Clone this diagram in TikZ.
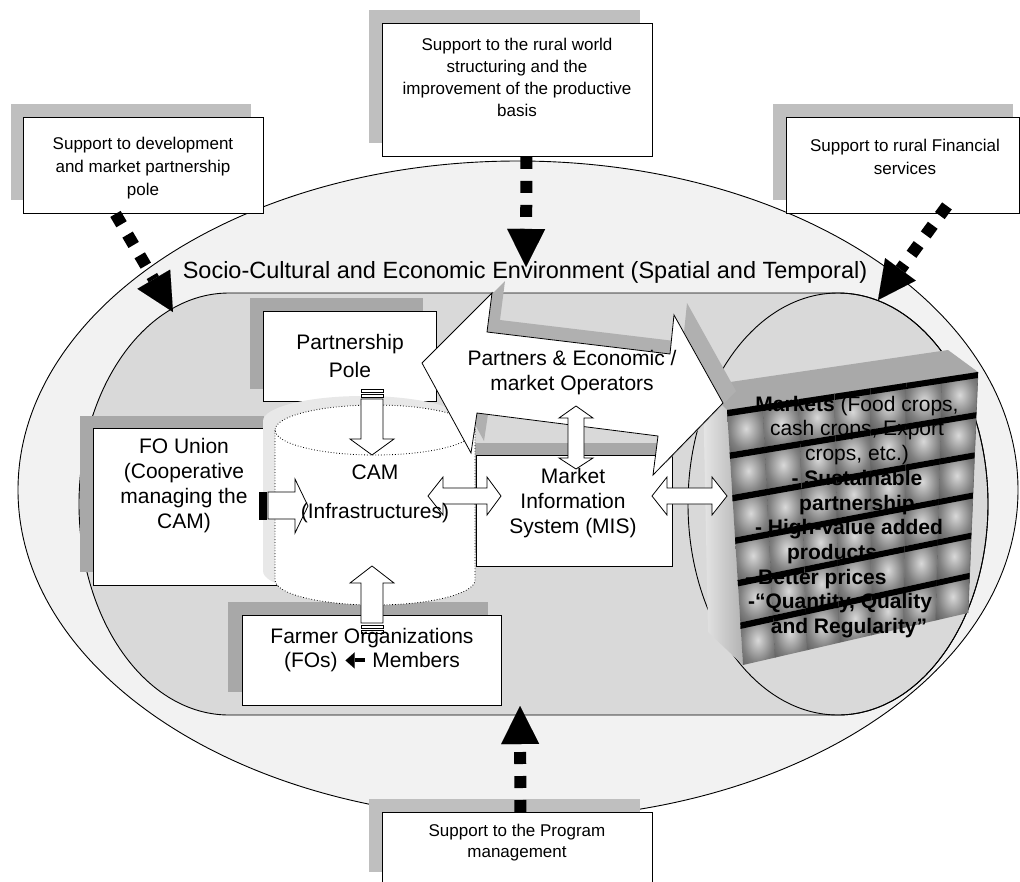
\documentclass[tikz,border=0pt]{standalone}
\usepackage{fontspec}
\setmainfont{Liberation Sans}
\usetikzlibrary{arrows.meta,calc}
\definecolor{outerbg}{HTML}{F2F2F2}
\definecolor{innerbg}{HTML}{D9D9D9}
\definecolor{shA}{HTML}{BFBFBF}
\definecolor{shB}{HTML}{A8A8A8}
\definecolor{cylsh}{HTML}{E8E8E8}
\definecolor{arrsh}{HTML}{B0B0B0}
\definecolor{cubetop}{HTML}{A9A9A9}
\pgfdeclareradialshading{tileshade}{\pgfpoint{0bp}{0bp}}{color(0bp)=(black!15); color(22bp)=(black!50); color(40bp)=(black!68); color(72bp)=(black!72)}
\tikzset{
 wbox/.style={draw=black, fill=white, line width=0.9pt, inner sep=0pt, anchor=north west},
 smalltxt/.style={font=\fontsize{17}{22}\selectfont, align=center, inner sep=0pt},
 bigtxt/.style={font=\fontsize{21}{25}\selectfont, align=center, inner sep=0pt},
 blockarrow/.style={draw=black, fill=white, line width=0.8pt, line join=miter},
 dotarrow/.style={line width=12pt, dash pattern=on 12pt off 12pt, -{Triangle[length=38pt,width=38pt,line width=0.01pt]}},
}
\newcommand{\boldleftarrow}{\tikz[baseline=-7pt]{\draw[line width=4pt,-{Triangle[length=9pt,width=16pt,line width=0.01pt]}] (19pt,0pt) -- (0pt,0pt);}}
\begin{document}
\begin{tikzpicture}[x=1pt,y=-1pt]
\useasboundingbox (0,0) rectangle (1020,881);
\clip (0,0) rectangle (1020,881);
% environment
\draw[fill=outerbg, line width=0.9pt] (518,490) ellipse [x radius=500pt, y radius=329pt];
\draw[fill=innerbg, line width=0.9pt] (229,293) -- (838,293)
  arc[start angle=90, end angle=-90, x radius=150pt, y radius=211pt] -- (229,715)
  arc[start angle=270, end angle=90, x radius=150pt, y radius=211pt] -- cycle;
\draw[line width=0.9pt] (838,504) ellipse [x radius=150pt, y radius=211pt];
% inner boxes with shadows
\fill[shB] (250,298) rectangle (423,389);
\node[wbox, minimum width=173pt, minimum height=90pt] (pp) at (263,311) {};
\fill[shB] (80,416) rectangle (264,572);
\node[wbox, minimum width=184pt, minimum height=157pt] (fo) at (93,428) {};
\fill[shB] (228,602) rectangle (488,692);
\node[wbox, minimum width=259pt, minimum height=90pt] (fa) at (242,615) {};
\fill[shB] (463,443) rectangle (659,553);
\node[wbox, minimum width=196pt, minimum height=111pt] (mis) at (476,455) {};
% cylinder
\fill[cylsh, shift={(-12,-9)}] (275,430) -- (275,580)
  arc[start angle=180, end angle=360, x radius=100pt, y radius=25pt] -- (475,430)
  arc[start angle=0, end angle=180, x radius=100pt, y radius=25pt] -- cycle;
\fill[white] (275,430) -- (275,580)
  arc[start angle=180, end angle=360, x radius=100pt, y radius=25pt] -- (475,430)
  arc[start angle=0, end angle=180, x radius=100pt, y radius=25pt] -- cycle;
\draw[dotted, line width=0.8pt] (275,430) -- (275,580)
  arc[start angle=180, end angle=360, x radius=100pt, y radius=25pt] -- (475,430);
\draw[dotted, line width=0.8pt] (375,430) ellipse [x radius=100pt, y radius=25pt];
% market cube
\coordinate (A) at (727,410); \coordinate (B) at (978,372);
\coordinate (C) at (968,613); \coordinate (D) at (743,665);
\coordinate (A2) at (703,386); \coordinate (B2) at (948,350); \coordinate (D2) at (708,632);
\shade[left color=white!90!black, right color=black!30] (A2) -- (A) -- (D) -- (D2) -- cycle;
\fill[cubetop] (A2) -- (B2) -- (B) -- (A) -- cycle;
\foreach \i in {0,...,6} {
  \foreach \j in {0,...,5} {
    \pgfmathsetmacro\ua{\i/7}
    \pgfmathsetmacro\ub{(\i+1)/7}
    \pgfmathsetmacro\va{\j/6}
    \pgfmathsetmacro\vb{(\j+1)/6}
    \pgfmathsetmacro\vc{(\j+0.15)/6}
    \coordinate (p1) at ($($(A)!\ua!(B)$)!\va!($(D)!\ua!(C)$)$);
    \coordinate (p2) at ($($(A)!\ub!(B)$)!\va!($(D)!\ub!(C)$)$);
    \coordinate (p3) at ($($(A)!\ub!(B)$)!\vb!($(D)!\ub!(C)$)$);
    \coordinate (p4) at ($($(A)!\ua!(B)$)!\vb!($(D)!\ua!(C)$)$);
    \coordinate (q1) at ($($(A)!\ua!(B)$)!\vc!($(D)!\ua!(C)$)$);
    \coordinate (q2) at ($($(A)!\ub!(B)$)!\vc!($(D)!\ub!(C)$)$);
    \shade[shading=tileshade] (p1) -- (p2) -- (p3) -- (p4) -- cycle;
    \draw[black!60, line width=0.6pt] (p2) -- (p3);
    \fill[black] (p1) -- (p2) -- (q2) -- (q1) -- cycle;
  }
}
% big arrow shadow and title
\fill[arrsh, shift={(13,-12)}] (422,363) -- (492,293) -- (487,332) -- (670,354) -- (674,315)
  -- (723,403) -- (653,475) -- (658,436) -- (477,413) -- (471,453) -- cycle;
\node[font=\fontsize{23.5}{28}\selectfont, inner sep=0pt] (title) at (525,272)
  {Socio-Cultural and Economic Environment (Spatial and Temporal)};
% big double arrow partners
\path[blockarrow] (422,363) -- (492,293) -- (487,332) -- (670,354) -- (674,315)
  -- (723,403) -- (653,475) -- (658,436) -- (477,413) -- (471,453) -- cycle;
% small block arrows
\path[blockarrow] (361,389) rectangle (383,392);
\path[blockarrow] (361,394) rectangle (383,397);
\path[blockarrow] (361,399) -- (383,399) -- (383,439) -- (394,439) -- (372,455) -- (350,439) -- (361,439) -- cycle;
\path[blockarrow] (361,625) rectangle (383,628);
\path[blockarrow] (361,630) rectangle (383,633);
\path[blockarrow] (361,623) -- (361,583) -- (350,583) -- (372,566) -- (394,583) -- (383,583) -- (383,623) -- cycle;
\path[blockarrow, fill=black] (259,492) rectangle (262,519);
\path[blockarrow, fill=black] (263,492) rectangle (266,519);
\path[blockarrow] (268,492) -- (295,492) -- (295,479) -- (308,506) -- (295,533) -- (295,519) -- (268,519) -- cycle;
\path[blockarrow] (428,496) -- (443,477) -- (443,488) -- (487,488) -- (487,477) -- (501,496)
  -- (487,515) -- (487,504) -- (443,504) -- (443,515) -- cycle;
\path[blockarrow] (652,496) -- (667,477) -- (667,488) -- (712,488) -- (712,477) -- (727,496)
  -- (712,515) -- (712,504) -- (667,504) -- (667,515) -- cycle;
\path[blockarrow] (576,406) -- (593,418) -- (584,418) -- (584,458) -- (593,458) -- (576,469)
  -- (559,458) -- (568,458) -- (568,418) -- (559,418) -- cycle;
% inner texts
\node[bigtxt, font=\fontsize{21}{28}\selectfont] (ppt) at (350,356) {Partnership\\Pole};
\node[bigtxt] (fot) at (184,486) {FO Union\\(Cooperative\\managing the\\CAM)};
\node[bigtxt] (cam) at (375,494) {CAM\\[14pt](Infrastructures)};
\node[bigtxt] (mist) at (573,503) {Market\\Information\\System (MIS)};
\node[bigtxt] (part) at (572,373) {Partners \& Economic /\\market Operators};
\node[bigtxt, font=\fontsize{21}{24}\selectfont] (fat) at (372,650) {Farmer Organizations\\(FOs) \boldleftarrow\ Members};
\node[bigtxt, font=\fontsize{21}{24.7}\selectfont] (mk) at (857,517)
  {\textbf{Markets} (Food crops,\\cash crops, Export\\crops, etc.)\\\textbf{- Sustainable}\\\textbf{partnership}\\\textbf{- High-value added}\rule{16pt}{0pt}\\\textbf{products}\rule{50pt}{0pt}\\\textbf{- Better prices}\rule{82pt}{0pt}\\\textbf{-“Quantity, Quality}\rule{34pt}{0pt}\\\textbf{and Regularity”}\rule{16pt}{0pt}};
% support boxes
\fill[shA] (11,104) rectangle (251,200);
\node[wbox, minimum width=240pt, minimum height=96pt] (b1) at (23,117) {};
\node[smalltxt, font=\fontsize{17}{23}\selectfont] (b1t) at (143,168) {Support to development\\and market partnership\\pole};
\fill[shA] (369,10) rectangle (640,143);
\node[wbox, minimum width=270pt, minimum height=133pt] (b2) at (382,23) {};
\node[smalltxt] (b2t) at (517,77) {Support to the rural world\\structuring and the\\improvement of the productive\\basis};
\fill[shA] (773,104) rectangle (1013,200);
\node[wbox, minimum width=233pt, minimum height=96pt] (b3) at (786,117) {};
\node[smalltxt, font=\fontsize{17}{23}\selectfont] (b3t) at (905,157) {Support to rural Financial\\services};
\fill[shA] (369,799) rectangle (640,872);
\node[wbox, minimum width=270pt, minimum height=80pt] (b4) at (382,812) {};
\node[smalltxt, font=\fontsize{17}{21}\selectfont] (b4t) at (517,843) {Support to the Program\\management};
% dotted support arrows
\coordinate (t1) at (173,312);
\coordinate (t2) at (526,267);
\coordinate (t3) at (878,300);
\coordinate (t4) at (520,706);
\draw[dotarrow] ([xshift=-28pt]b1.south) -- (t1);
\draw[dotarrow] ([xshift=9pt]b2.south) -- (t2);
\draw[dotarrow] ([xshift=44pt,yshift=8pt]b3.south) -- (t3);
\draw[dotarrow] ([xshift=3pt]b4.north) -- (t4);
\end{tikzpicture}
\end{document}
